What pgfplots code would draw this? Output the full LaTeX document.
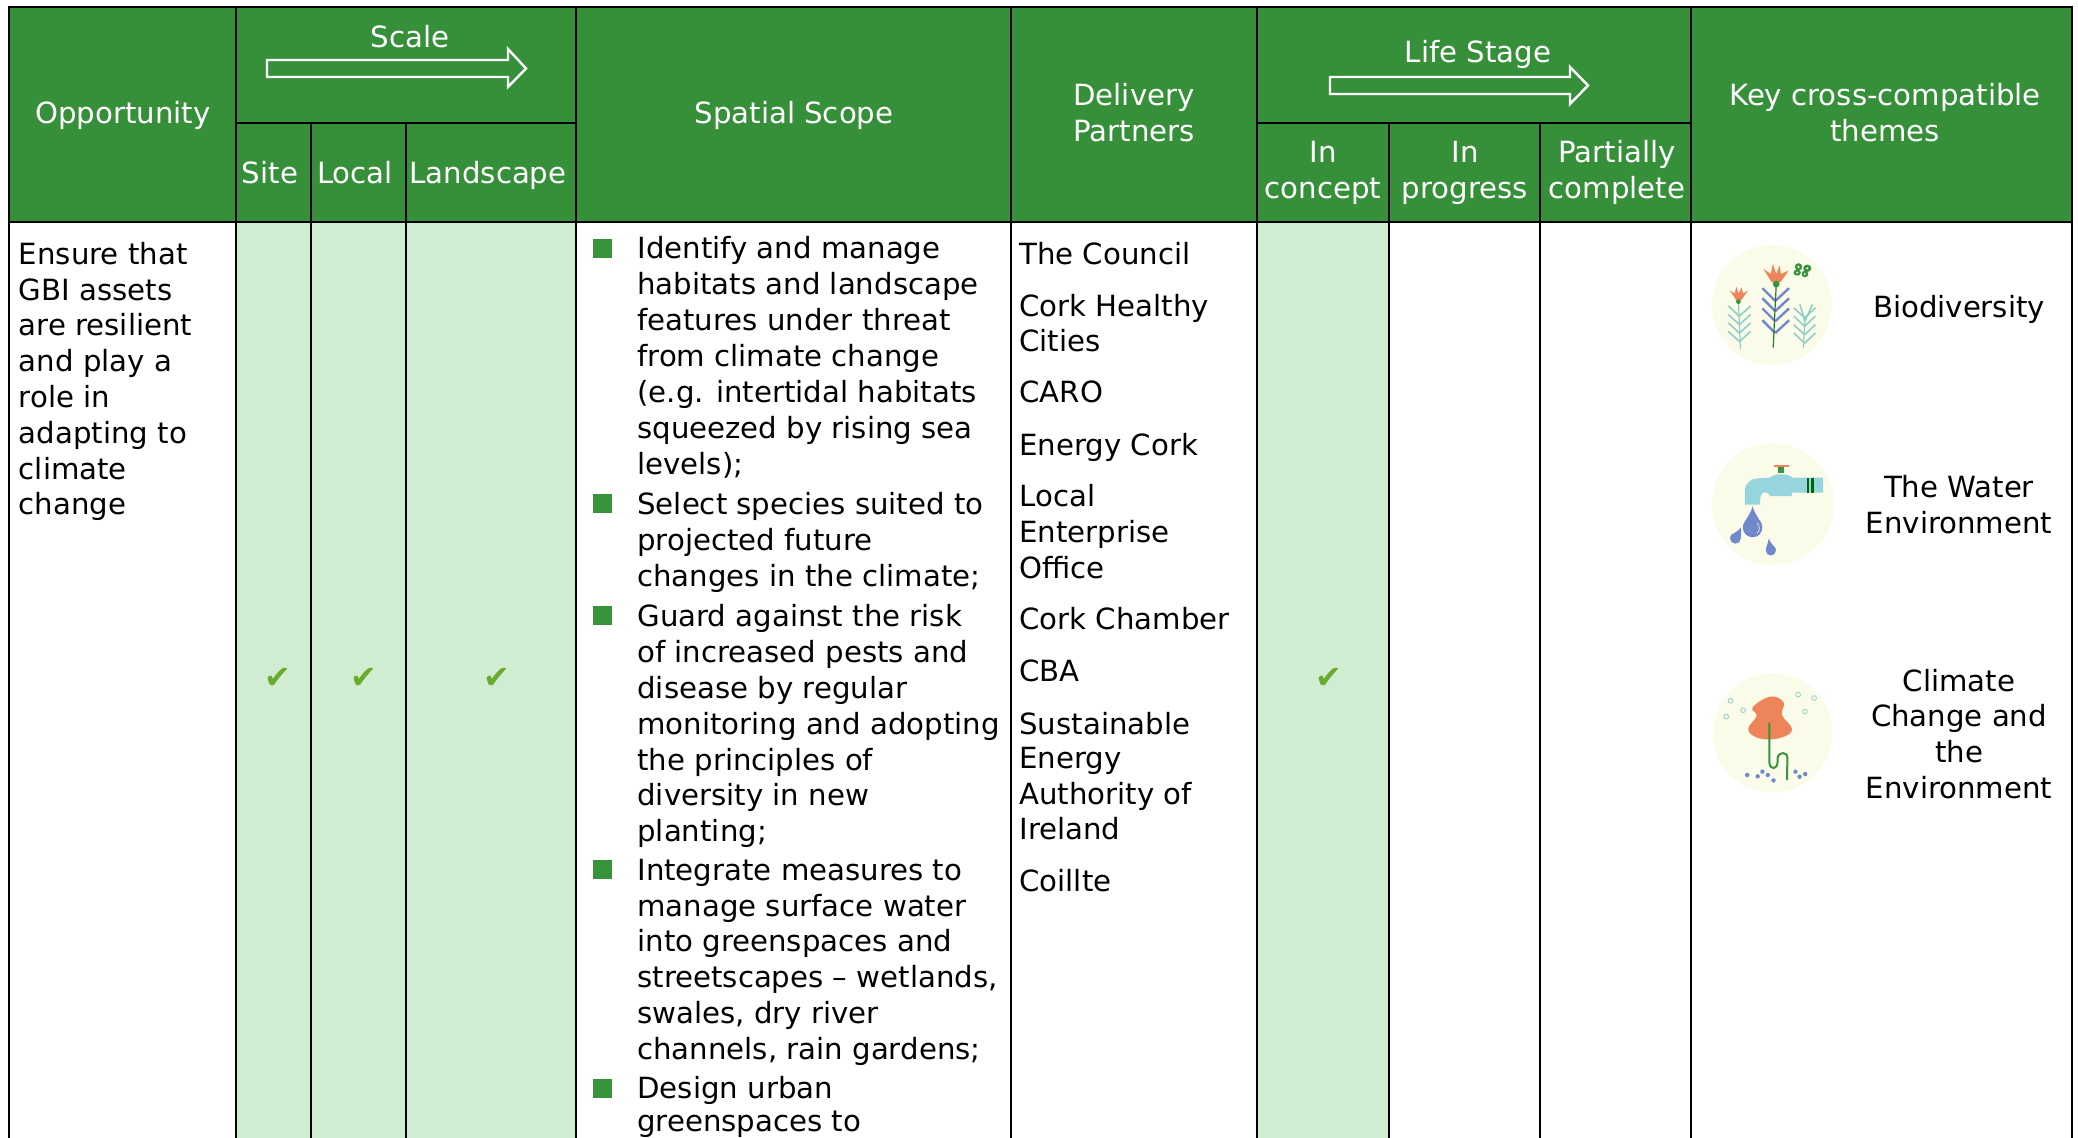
\documentclass[border=0pt]{standalone}
\usepackage{fontspec}
\setmainfont{DejaVu Sans}
\usepackage{pgfplots}
\pgfplotsset{compat=1.18}
\usetikzlibrary{calc}
\definecolor{hdr}{HTML}{36903A}
\definecolor{lgt}{HTML}{D1EDD1}
\definecolor{chk}{HTML}{6AAB2F}
\definecolor{crm}{HTML}{FBFBEA}
\definecolor{tealc}{HTML}{96D5DD}
\definecolor{org}{HTML}{EE845A}
\definecolor{blu}{HTML}{7088CC}
\definecolor{frn}{HTML}{8FCFC8}
\definecolor{grn}{HTML}{38943C}
\newcommand\bodyf{\fontsize{14.6pt}{17.7pt}\selectfont}
\newcommand\headf{\fontsize{14.6pt}{17.7pt}\selectfont}
\newcommand\TL[3]{\node[anchor=base west,inner sep=0pt,text=black,font=\bodyf,yshift=-0.65pt] at (axis cs:#1,#2) {#3};}
\newcommand\TC[3]{\node[anchor=base,inner sep=0pt,text=black,font=\bodyf,yshift=-0.65pt] at (axis cs:#1,#2) {#3};}
\newcommand\HC[3]{\node[anchor=base,inner sep=0pt,text=white,font=\headf,yshift=-0.4pt] at (axis cs:#1,#2) {#3};}
\newcommand\RECT[5]{\addplot[draw=none,fill=#5,mark=none] coordinates {(#1,#2)(#3,#2)(#3,#4)(#1,#4)} --cycle;}
\newcommand\VL[3]{\addplot[black,line width=1pt,mark=none] coordinates {(#1,#2)(#1,#3)};}
\newcommand\HL[3]{\addplot[black,line width=1pt,mark=none] coordinates {(#2,#1)(#3,#1)};}
\begin{document}
\begin{tikzpicture}
\path[use as bounding box] (0,0) rectangle (1039pt,569pt);
\begin{axis}[
  anchor=south west, at={(0,0)},
  x=0.5pt,y=0.5pt,xmin=0,xmax=2078,ymin=0,ymax=1138,y dir=reverse,
  hide axis,scale only axis,clip=true]
% header and shaded cells
\RECT{8}{7}{2072}{222}{hdr}
\RECT{236}{222}{576}{1138}{lgt}
\RECT{1257}{222}{1389}{1138}{lgt}
% rules
\HL{7}{8}{2072}
\HL{222}{8}{2072}
\HL{123}{236}{576}
\HL{123}{1257}{1691}
\VL{9}{6}{1138}
\VL{236}{6}{1138}
\VL{311}{123}{1138}
\VL{406}{123}{1138}
\VL{576}{6}{1138}
\VL{1011}{6}{1138}
\VL{1257}{6}{1138}
\VL{1389}{123}{1138}
\VL{1540}{123}{1138}
\VL{1691}{6}{1138}
\VL{2072}{6}{1138}
% arrows
\addplot[white,line width=1.2pt,mark=none] coordinates {(267,60)(508,60)(508,49)(526,68.5)(508,87)(508,77)(267,77)} --cycle;
\addplot[white,line width=1.2pt,mark=none] coordinates {(1330,77)(1570,77)(1570,67)(1588,85.5)(1570,104)(1570,94)(1330,94)} --cycle;
% ticks
\addplot[only marks,mark=text,text mark={\fontsize{16pt}{16pt}\selectfont\textcolor{chk}{✔}},text mark as node=true] coordinates {(278,678)(364,678)(497,678)(1329,678)};
% bullets
\addplot[only marks,mark=square*,mark size=4.5pt,color=grn] coordinates {(602,248)(602,503)(602,615)(602,869)(602,1088)};
% header text
\HC{123}{123}{Opportunity}
\HC{410}{47}{Scale}
\HC{270}{183}{Site}
\HC{355}{183}{Local}
\HC{488}{183}{Landscape}
\HC{794}{123}{Spatial Scope}
\HC{1134}{105}{Delivery}
\HC{1134}{141}{Partners}
\HC{1478}{62}{Life Stage}
\HC{1323}{162}{In}
\HC{1323}{198}{concept}
\HC{1465}{162}{In}
\HC{1465}{198}{progress}
\HC{1617}{162}{Partially}
\HC{1617}{198}{complete}
\HC{1885}{105}{Key cross-compatible}
\HC{1885}{141}{themes}
% opportunity
\TL{18.5}{263}{Ensure that}
\TL{18.5}{298.8}{GBI assets}
\TL{18.5}{334.6}{are resilient}
\TL{18.5}{370.4}{and play a}
\TL{18.5}{406.2}{role in}
\TL{18.5}{442}{adapting to}
\TL{18.5}{477.8}{climate}
\TL{18.5}{513.6}{change}
% spatial scope
\TL{637}{257.5}{Identify and manage}
\TL{637}{293.3}{habitats and landscape}
\TL{637}{329.6}{features under threat}
\TL{637}{365.4}{from climate change}
\TL{637}{401.2}{(e.g. intertidal habitats}
\TL{637}{437}{squeezed by rising sea}
\TL{637}{472.8}{levels);}
\TL{637}{513.3}{Select species suited to}
\TL{637}{549.1}{projected future}
\TL{637}{584.9}{changes in the climate;}
\TL{637}{625.5}{Guard against the risk}
\TL{637}{661.3}{of increased pests and}
\TL{637}{697.1}{disease by regular}
\TL{637}{732.9}{monitoring and adopting}
\TL{637}{768.7}{the principles of}
\TL{637}{804.5}{diversity in new}
\TL{637}{840.3}{planting;}
\TL{637}{879}{Integrate measures to}
\TL{637}{914.8}{manage surface water}
\TL{637}{950.6}{into greenspaces and}
\TL{637}{986.4}{streetscapes – wetlands,}
\TL{637}{1022.2}{swales, dry river}
\TL{637}{1058}{channels, rain gardens;}
\TL{637}{1097.5}{Design urban}
\TL{637}{1129.7}{greenspaces to}
% delivery partners
\TL{1019}{263}{The Council}
\TL{1019}{315}{Cork Healthy}
\TL{1019}{350}{Cities}
\TL{1019}{401}{CARO}
\TL{1019}{454}{Energy Cork}
\TL{1019}{505.3}{Local}
\TL{1019}{541.3}{Enterprise}
\TL{1019}{577.3}{Office}
\TL{1019}{628.3}{Cork Chamber}
\TL{1019}{680.3}{CBA}
\TL{1019}{733}{Sustainable}
\TL{1019}{767.5}{Energy}
\TL{1019}{803}{Authority of}
\TL{1019}{838.5}{Ireland}
\TL{1019}{890}{Coillte}
% themes
\TC{1959}{316}{Biodiversity}
\TC{1959}{496}{The Water}
\TC{1959}{532}{Environment}
\TC{1959}{690}{Climate}
\TC{1959}{725.5}{Change and}
\TC{1959}{761}{the}
\TC{1959}{797}{Environment}
\end{axis}
% ---- theme icons (decorative) ----
\begin{scope}[shift={(839.5pt,459pt)},x=0.1688pt,y=-0.1688pt]
\fill[crm] (275,252) circle[radius=178];
% left plant
\draw[frn,line width=0.6pt] (182,382)--(176,240);
\foreach \v in {285,310,335,360}{\draw[frn,line width=0.8pt] (179,\v)--(146,\v-30) (179,\v)--(212,\v-30);}
\fill[org] (150,208)--(170,238)--(184,238)--(205,208)--(190,218)--(185,200)--(177,218)--(170,198)--(165,218)--cycle;
\fill[grn] (176,242) circle[radius=7];
% middle plant
\foreach \v in {240,270,300,335}{\draw[blu,line width=1.2pt] (285,\v)--(247,\v-38) (285,\v)--(326,\v-38);}
\draw[grn!80!black,line width=0.6pt] (279,378)--(288,190);
\fill[org] (250,145)--(275,185)--(300,185)--(325,150)--(302,160)--(298,135)--(288,160)--(278,130)--(272,160)--cycle;
\fill[grn] (288,190) circle[radius=10];
% right plant
\draw[frn,line width=0.6pt] (368,380)--(373,300);
\foreach \v in {290,315,340,365}{\draw[frn,line width=0.8pt] (372,\v)--(340,\v-30) (372,\v)--(404,\v-30);}
\draw[frn,line width=0.8pt] (373,300)--(358,250) (373,300)--(395,250);
% butterfly
\fill[grn] (354,139) ellipse[x radius=11,y radius=11];
\fill[grn] (350,156) ellipse[x radius=11,y radius=9];
\fill[grn] (380,143) ellipse[x radius=12,y radius=11];
\fill[grn] (373,160) ellipse[x radius=10,y radius=10];
\fill[crm] (354,139) circle[radius=3.5];
\fill[crm] (380,143) circle[radius=3.5];
\fill[crm] (350,156) circle[radius=3];
\fill[crm] (373,160) circle[radius=3];
\end{scope}
\begin{scope}[shift={(839.5pt,460.2pt)},x=0.1688pt,y=-0.1688pt]
% tap
\fill[crm] (278,849) circle[radius=181];
\fill[tealc] (195,850)--(195,810) .. controls (195,785) and (215,772) .. (240,772)--(270,770) .. controls (280,757) and (325,757) .. (335,770)--(427,770)--(427,815)--(335,815)--(333,825)--(270,825)--(262,815)--(250,815) .. controls (242,818) and (240,825) .. (240,850)--cycle;
\fill[org] (280,733) rectangle (325,740);
\fill[grn] (293,740) rectangle (311,757);
\fill[green!40!black] (380,770) rectangle (386,815);
\fill[green!40!black] (392,770) rectangle (399,815);
\fill[blu] (218,918) circle[radius=29];
\fill[blu] (218,855) .. controls (212,880) and (195,895) .. (190,912)--(246,912) .. controls (241,895) and (224,880) .. (218,855)--cycle;
\fill[blu] (167,950) circle[radius=16];
\fill[blu] (183,918) .. controls (176,930) and (158,935) .. (152,946)--(182,952) .. controls (184,940) and (185,930) .. (183,918)--cycle;
\fill[blu] (272,986) circle[radius=15];
\fill[blu] (266,950) .. controls (264,965) and (259,972) .. (257,982)--(287,982) .. controls (282,972) and (270,965) .. (266,950)--cycle;
\draw[crm,line width=0.3pt] (232,905) .. controls (240,915) and (240,925) .. (232,935);
\end{scope}
\begin{scope}[shift={(839.5pt,249pt)},x=0.1688pt,y=-0.1688pt]
\fill[crm] (277,275) circle[radius=177];
\fill[org] plot[smooth cycle,tension=0.7] coordinates {(218,200)(270,168)(310,185)(305,222)(335,265)(300,290)(240,292)(205,265)(230,225)};
\draw[grn,line width=1pt,line join=round] (268,245)--(268,365) .. controls (270,385) and (292,385) .. (292,360)--(292,350) .. controls (295,330) and (322,330) .. (321,350)--(320,415);
\foreach \p in {(202,400),(233,404),(247,390),(263,400),(280,416),(345,390),(357,405),(374,397)}{\fill[blu] \p circle[radius=6.5];}
\foreach \p in {(153,180),(190,208),(140,227),(353,162),(400,172),(373,212)}{\draw[frn,line width=0.4pt] \p circle[radius=7];}
\end{scope}
\end{tikzpicture}
\end{document}
